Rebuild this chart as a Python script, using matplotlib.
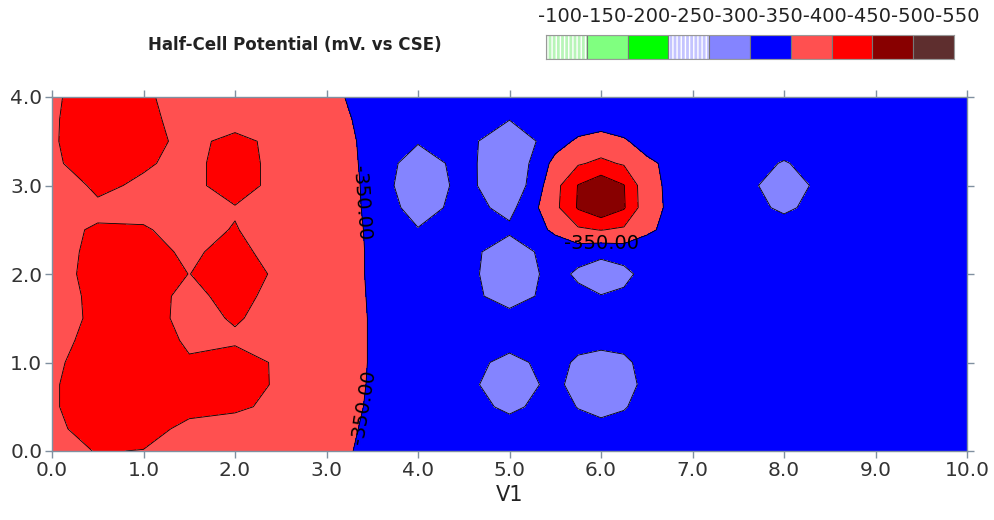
import numpy as np
import matplotlib
matplotlib.use('Agg')
import matplotlib.pyplot as plt

# survey grid (V1 along x, rows along y), half-cell potential in mV vs CSE
xs = [0, 0.5, 1, 1.5, 2, 2.5, 3, 3.5, 4, 4.5, 5, 5.5, 5.75, 6, 6.25, 6.5, 7, 7.5, 8, 8.5, 9, 9.5, 10]
ys = [4.0, 3.75, 3.5, 3.25, 3.0, 2.75, 2.5, 2.25, 2.0, 1.75, 1.5, 1.25, 1.0, 0.75, 0.5, 0.25, 0.0]
pot = [
    [-391, -430, -410, -372, -375, -375, -375, -312, -320, -320, -320, -320, -320, -320, -320, -320, -320, -320, -320, -320, -320, -320, -320],
    [-392, -440, -420, -370, -375, -375, -375, -330, -320, -320, -302, -320, -320, -325, -320, -320, -320, -320, -320, -320, -320, -320, -320],
    [-393, -440, -418, -385, -416, -383, -375, -337, -305, -320, -258, -330, -358, -370, -356, -330, -320, -320, -320, -320, -320, -320, -320],
    [-390, -430, -406, -385, -425, -380, -375, -339, -270, -320, -252, -365, -395, -410, -395, -360, -320, -320, -297, -320, -320, -320, -320],
    [-368, -410, -392, -385, -425, -380, -375, -341, -255, -320, -253, -384, -452, -485, -452, -365, -320, -320, -275, -320, -320, -320, -320],
    [-370, -391, -390, -380, -397, -378, -375, -342, -275, -320, -285, -388, -455, -490, -455, -367, -320, -320, -292, -320, -320, -320, -320],
    [-390, -404, -403, -388, -402, -380, -375, -344, -303, -320, -310, -358, -392, -402, -392, -358, -320, -320, -320, -320, -320, -320, -320],
    [-363, -425, -420, -390, -420, -370, -375, -345, -320, -320, -270, -325, -325, -315, -325, -325, -320, -320, -320, -320, -320, -320, -320],
    [-371, -425, -435, -399, -435, -386, -375, -345, -320, -320, -262, -320, -290, -270, -285, -320, -320, -320, -320, -320, -320, -320, -320],
    [-364, -420, -425, -384, -420, -378, -375, -346, -320, -320, -275, -320, -315, -302, -310, -320, -320, -320, -320, -320, -320, -320, -320],
    [-375, -412, -425, -382, -405, -380, -375, -347, -320, -320, -320, -320, -320, -320, -320, -320, -320, -320, -320, -320, -320, -320, -320],
    [-380, -420, -430, -392, -392, -378, -375, -347, -320, -320, -320, -320, -320, -320, -320, -320, -320, -320, -320, -320, -320, -320, -320],
    [-388, -430, -440, -405, -425, -391, -375, -347, -320, -320, -285, -320, -290, -275, -288, -320, -320, -320, -320, -320, -320, -320, -320],
    [-392, -440, -445, -425, -430, -390, -375, -346, -320, -320, -262, -320, -270, -265, -272, -320, -320, -320, -320, -320, -320, -320, -320],
    [-392, -440, -440, -420, -410, -385, -375, -344, -320, -320, -290, -320, -298, -280, -296, -320, -320, -320, -320, -320, -320, -320, -320],
    [-384, -430, -425, -383, -374, -375, -375, -339, -320, -320, -320, -320, -320, -320, -320, -320, -320, -320, -320, -320, -320, -320, -320],
    [-378, -403, -398, -378, -375, -375, -375, -332, -320, -320, -320, -320, -320, -320, -320, -320, -320, -320, -320, -320, -320, -320, -320],
]

# legend classes, left to right
bin_labels = [-100, -150, -200, -250, -300, -350, -400, -450, -500, -550]
bin_colors = ['#b8f5b8', '#80ff80', '#00ff00', '#c4c4ff', '#8484ff',
              '#0000ff', '#ff5050', '#ff0000', '#880000', '#5e2e2e']
bin_hatch = ['||||', '', '', '||||', '', '', '', '', '', '']
label_level = -350

X = np.array(xs)
Y = np.array(ys)[::-1]
Z = np.array(pot, dtype=float)[::-1]

levels = sorted(bin_labels + [-50])
fill_colors = bin_colors[::-1]

fig = plt.figure(figsize=(9.95, 5.2), dpi=100)
ax = fig.add_axes([52 / 995, 1 - 451 / 520, 915 / 995, 354 / 520])

ax.contourf(X, Y, Z, levels=levels, colors=fill_colors)
ax.contour(X, Y, Z, levels=[v for v in levels if v != label_level],
           colors='k', linewidths=0.6, linestyles='solid')
cs = ax.contour(X, Y, Z, levels=[label_level], colors='k',
                linewidths=0.6, linestyles='solid')
ax.clabel(cs, manual=[(3.38, 2.8), (3.38, 0.5), (6.0, 2.3)],
          inline=False, fmt='%.2f', fontsize=14, colors='k')

ax.set_xlim(0, 10)
ax.set_ylim(0, 4)
ax.set_xticks(np.arange(0, 11, 1))
ax.set_yticks(np.arange(0, 5, 1))
ax.set_xticklabels(['%.1f' % v for v in np.arange(0, 11, 1)])
ax.set_yticklabels(['%.1f' % v for v in np.arange(0, 5, 1)])
ax.tick_params(direction='out', length=5, width=1, top=True, right=True,
               color='#8090a0', labelcolor='#333333', labelsize=14.5, pad=2)
for s in ax.spines.values():
    s.set_color('#8090a0')
    s.set_linewidth(1)
ax.set_xlabel('V1', fontsize=15, color='#222222', labelpad=4)

# colour key
lax = fig.add_axes([546 / 995, 1 - 59 / 520, 408 / 995, 24 / 520])
for i in range(len(bin_labels)):
    lax.bar(i, 1, width=1, align='edge', color=bin_colors[i],
            hatch=bin_hatch[i], edgecolor='white' if bin_hatch[i] else bin_colors[i], linewidth=0)
    lax.bar(i, 1, width=1, align='edge', fill=False, edgecolor='#777777', linewidth=0.8)
lax.set_xlim(0, 10)
lax.set_ylim(0, 1)
lax.set_xticks([])
lax.set_yticks([])
for s in lax.spines.values():
    s.set_color('#999999')

fig.text(538 / 995, 1 - 17 / 520, ''.join(str(v) for v in bin_labels),
         fontsize=14, color='#222222', ha='left', va='center')
fig.text(148 / 995, 1 - 45 / 520, 'Half-Cell Potential (mV. vs CSE)',
         fontsize=12, fontweight='bold', color='#222222', ha='left', va='center')

fig.savefig('out.png', dpi=100)
